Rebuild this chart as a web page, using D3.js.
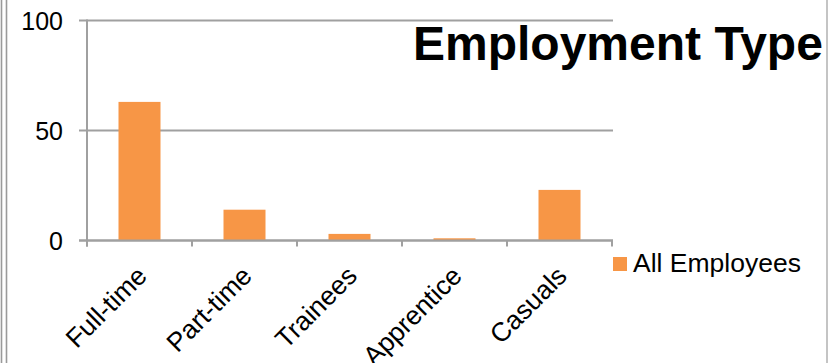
<!DOCTYPE html>
<html>
<head>
<meta charset="utf-8">
<script src="https://cdn.jsdelivr.net/npm/d3@7"></script>
<style>
  html, body { margin: 0; padding: 0; background: #fff; }
  svg { display: block; }
  text { font-family: "Liberation Sans", Arial, sans-serif; fill: #000; }
</style>
</head>
<body>
<svg id="chart" width="828" height="363"></svg>
<script>
// Employment breakdown, all employees
const categories = ["Full-time", "Part-time", "Trainees", "Apprentice", "Casuals"];
const allEmployees = [63, 14, 3, 1, 23];
const yTicks = [0, 50, 100];
const seriesName = "All Employees";
const titleText = "Employment Type";

const W = 828, H = 363;
const plot = { left: 87, right: 612, top: 20.5, bottom: 240.5 };
const barColor = "#F79646";
const lineColor = "#a0a0a0";

const svg = d3.select("#chart");

// outer frame: double rule on the left, single rule on the right
[1.5, 6.5].forEach(x => {
  svg.append("line").attr("x1", x).attr("x2", x).attr("y1", 0).attr("y2", H)
    .attr("stroke", "#9a9a9a").attr("stroke-width", 1.6);
});
svg.append("line").attr("x1", 827).attr("x2", 827).attr("y1", 0).attr("y2", H)
  .attr("stroke", "#b0b0b0").attr("stroke-width", 1.5);

const x = d3.scaleBand()
  .domain(categories)
  .range([plot.left, plot.right])
  .paddingInner(0.6)
  .paddingOuter(0.3);

const y = d3.scaleLinear().domain([0, 100]).range([plot.bottom, plot.top]);

// horizontal gridlines with short tick stubs to the left
const grid = svg.append("g");
yTicks.forEach(t => {
  grid.append("line")
    .attr("x1", plot.left - 8).attr("x2", plot.right + 1)
    .attr("y1", y(t)).attr("y2", y(t))
    .attr("stroke", lineColor).attr("stroke-width", 2);
});

// value axis line
svg.append("line")
  .attr("x1", plot.left).attr("x2", plot.left)
  .attr("y1", plot.top - 1).attr("y2", plot.bottom + 6)
  .attr("stroke", lineColor).attr("stroke-width", 2);

// category tick marks below the baseline, at the band boundaries
const bandEdges = categories.map(c => x(c) - x.step() * x.paddingInner() / 2 - (x.bandwidth() * 0))
  .map((v, i) => plot.left + i * x.step())
  .concat([plot.right]);
bandEdges.forEach(bx => {
  svg.append("line")
    .attr("x1", bx).attr("x2", bx)
    .attr("y1", plot.bottom).attr("y2", plot.bottom + 6)
    .attr("stroke", lineColor).attr("stroke-width", 2);
});

// bars
svg.append("g").selectAll("rect")
  .data(categories.map((c, i) => ({ c, v: allEmployees[i] })))
  .join("rect")
  .attr("x", d => x(d.c))
  .attr("width", x.bandwidth())
  .attr("y", d => y(d.v))
  .attr("height", d => y(0) - y(d.v))
  .attr("fill", barColor);

// redraw baseline over bar bottoms
svg.append("line")
  .attr("x1", plot.left - 8).attr("x2", plot.right + 1)
  .attr("y1", y(0)).attr("y2", y(0))
  .attr("stroke", lineColor).attr("stroke-width", 2);

// y tick labels
svg.append("g").selectAll("text")
  .data(yTicks)
  .join("text")
  .attr("x", 63)
  .attr("y", d => y(d) + 9)
  .attr("text-anchor", "end")
  .style("font-size", "25px")
  .text(d => d);

// rotated category labels
svg.append("g").selectAll("text")
  .data(categories)
  .join("text")
  .attr("text-anchor", "end")
  .style("font-size", "26.5px")
  .attr("transform", d => {
    const cx = x(d) + x.bandwidth() / 2;
    return `translate(${cx + 9},${plot.bottom + 37}) rotate(-45)`;
  })
  .text(d => d);

// title
svg.append("text")
  .attr("x", 413).attr("y", 60)
  .style("font-size", "48px")
  .style("font-weight", "bold")
  .text(titleText);

// legend
const lg = svg.append("g");
lg.append("rect").attr("x", 613).attr("y", 257).attr("width", 14).attr("height", 14).attr("fill", barColor);
lg.append("text").attr("x", 633).attr("y", 272).style("font-size", "26.5px").text(seriesName);
</script>
</body>
</html>
